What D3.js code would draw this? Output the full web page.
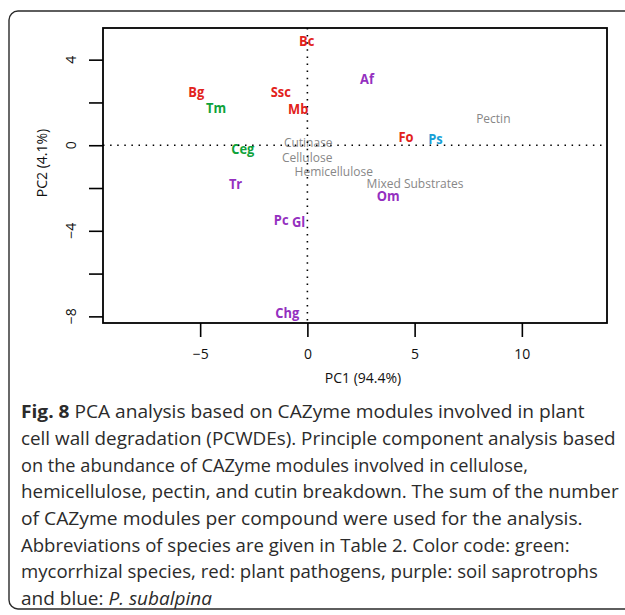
<!DOCTYPE html>
<html><head><meta charset="utf-8">
<script src="https://cdn.jsdelivr.net/npm/d3@7"></script>
<style>body{margin:0;background:#fff}svg{display:block}</style>
</head><body>
<svg id="c" width="625" height="615"></svg>
<script>
// Species scores (PC1, PC2)
const species = ["Bc","Af","Bg","Ssc","Tm","Mb","Fo","Ps","Ceg","Tr","Om","Pc","Gl","Chg"];
const speciesPC1 = [-0.03, 2.78, -5.18, -1.24, -4.26, -0.43, 4.60, 5.97, -3.01, -3.35, 3.77, -1.22, -0.41, -0.94];
const speciesPC2 = [4.87, 3.11, 2.49, 2.49, 1.74, 1.70, 0.39, 0.32, -0.17, -1.79, -2.37, -3.47, -3.55, -7.82];
const speciesGroup = ["pathogen","saprotroph","pathogen","pathogen","mycorrhizal","pathogen","pathogen","subalpina","mycorrhizal","saprotroph","saprotroph","saprotroph","saprotroph","saprotroph"];
// Variable loadings (compound)
const compounds = ["Pectin","Cutinase","Cellulose","Hemicellulose","Mixed Substrates"];
const compoundPC1 = [8.67, 0.04, -0.01, 1.23, 5.02];
const compoundPC2 = [1.26, 0.12, -0.56, -1.25, -1.79];
// Axes
const xTicks = [-5, 0, 5, 10];
const yTicks = [-8, -6, -4, -2, 0, 2, 4];
const yTickLabels = [-8, -4, 0, 4];
const xTitle = "PC1 (94.4%)";
const yTitle = "PC2 (4.1%)";
const groupColors = {mycorrhizal:"#0ea23a", pathogen:"#e2221b", saprotroph:"#9430c0", subalpina:"#189fd6"};
const captionLines = [
  [["b","Fig. 8"],["n"," PCA analysis based on CAZyme modules involved in plant"]],
  [["n","cell wall degradation (PCWDEs). Principle component analysis based"]],
  [["n","on the abundance of CAZyme modules involved in cellulose,"]],
  [["n","hemicellulose, pectin, and cutin breakdown. The sum of the number"]],
  [["n","of CAZyme modules per compound were used for the analysis."]],
  [["n","Abbreviations of species are given in Table 2. Color code: green:"]],
  [["n","mycorrhizal species, red: plant pathogens, purple: soil saprotrophs"]],
  [["n","and blue: "],["i","P. subalpina"]]
];
const captionEnds = [585, 616, 528, 619, 583, 570, 598, 212];

const svg = d3.select("#c");
const FONT = "'Open Sans', 'Noto Sans', sans-serif";
const L = 103, R = 607, T = 28, B = 323;
const x = d3.scaleLinear().domain([-9.53, 13.97]).range([L, R]);
const y = d3.scaleLinear().domain([-8.31, 5.48]).range([B, T]);

// outer frame
svg.append("rect").attr("x", 9).attr("y", 11).attr("width", 700).attr("height", 598)
  .attr("rx", 9).attr("fill", "none").attr("stroke", "#2a2a2a").attr("stroke-width", 1.4);

// compound labels
svg.append("g").selectAll("text").data(compounds).join("text")
  .attr("x", (d,i) => x(compoundPC1[i])).attr("y", (d,i) => y(compoundPC2[i]))
  .attr("dy", "0.36em").attr("text-anchor", "middle")
  .attr("font-family", FONT).attr("font-size", 12).attr("fill", "#878787").text(d => d);

// species labels
svg.append("g").selectAll("text").data(species).join("text")
  .attr("transform", (d,i) => `translate(${x(speciesPC1[i])},${y(speciesPC2[i])}) scale(0.86,1)`)
  .attr("dy", "0.36em").attr("text-anchor", "middle")
  .attr("font-family", FONT).attr("font-size", 15).attr("font-weight", "bold")
  .attr("fill", (d,i) => groupColors[speciesGroup[i]]).text(d => d);

// dotted reference lines
svg.append("line").attr("x1", L).attr("x2", R).attr("y1", y(0)).attr("y2", y(0))
  .attr("stroke", "#000").attr("stroke-width", 1.6).attr("stroke-dasharray", "1.5,5.6");
svg.append("line").attr("x1", x(0)).attr("x2", x(0)).attr("y1", T).attr("y2", B)
  .attr("stroke", "#000").attr("stroke-width", 1.6).attr("stroke-dasharray", "1.5,5.6");

// plot box
svg.append("rect").attr("x", L).attr("y", T).attr("width", R - L).attr("height", B - T)
  .attr("fill", "none").attr("stroke", "#000").attr("stroke-width", 1.8);

const fmt = d => d < 0 ? "\u2212" + Math.abs(d) : d;
// axes
const xAxis = svg.append("g").attr("transform", `translate(0,${B})`)
  .call(d3.axisBottom(x).tickValues(xTicks).tickSize(14).tickPadding(12).tickFormat(fmt));
xAxis.select(".domain").remove();
xAxis.selectAll("line").attr("stroke", "#000").attr("stroke-width", 1.6);
xAxis.selectAll("text").attr("font-family", FONT).attr("font-size", 14).attr("fill", "#111");

const yAxis = svg.append("g").attr("transform", `translate(${L},0)`)
  .call(d3.axisLeft(y).tickValues(yTicks).tickSize(14).tickFormat(""));
yAxis.select(".domain").remove();
yAxis.selectAll("line").attr("stroke", "#000").attr("stroke-width", 1.6);
svg.append("g").selectAll("text").data(yTickLabels).join("text")
  .attr("transform", d => `translate(71,${y(d)}) rotate(-90)`)
  .attr("dy", "0.36em").attr("text-anchor", "middle")
  .attr("font-family", FONT).attr("font-size", 14).attr("fill", "#111").text(fmt);

svg.append("text").attr("x", 363).attr("y", 377.5).attr("dy", "0.36em").attr("text-anchor", "middle")
  .attr("font-family", FONT).attr("font-size", 14).attr("fill", "#111").text(xTitle);
svg.append("text").attr("transform", "translate(41.5,163) rotate(-90)").attr("dy", "0.36em")
  .attr("text-anchor", "middle").attr("font-family", FONT).attr("font-size", 14).attr("fill", "#111").text(yTitle);

// caption
const capX = 21;
captionLines.forEach((parts, i) => {
  const t = svg.append("text").attr("x", capX).attr("y", 418.3 + i * 26.7)
    .attr("font-family", FONT).attr("font-size", 18.5).attr("fill", "#2b2b2b");
  parts.forEach(p => {
    const s = t.append("tspan").text(p[1]);
    if (p[0] === "b") s.attr("font-weight", "bold");
    if (p[0] === "i") s.attr("font-style", "italic");
  });
  t.attr("xml:space", "preserve");
  const w = t.node().getComputedTextLength();
  const k = (captionEnds[i] - capX) / w;
  t.attr("transform", `translate(${capX},0) scale(${k},1) translate(${-capX},0)`);
});
</script>
</body></html>
